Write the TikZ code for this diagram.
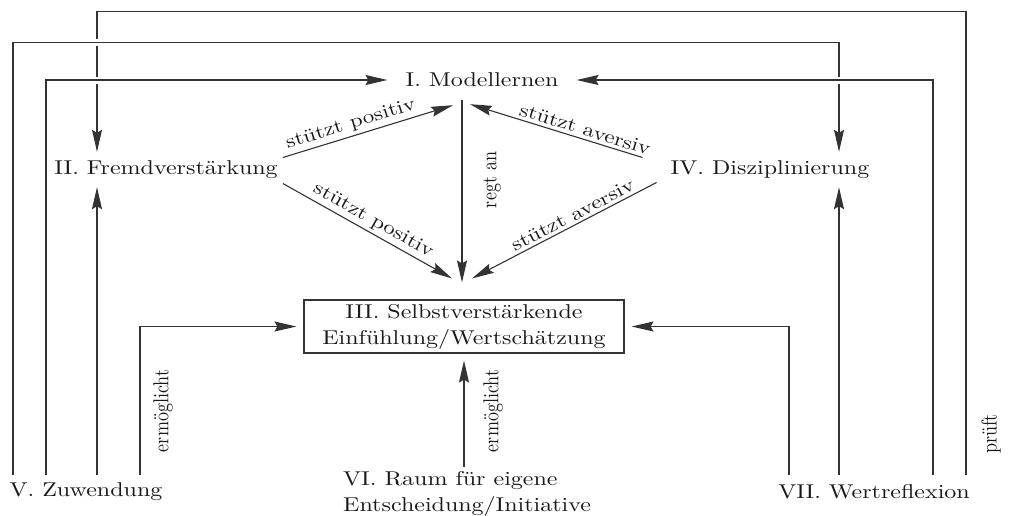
\documentclass[tikz,border=0pt]{standalone}
\usepackage{graphicx}
\usetikzlibrary{arrows.meta}
\newcommand\hstr[1]{\scalebox{2.4}[2.0]{#1}}
\newcommand\lstr[1]{\scalebox{2.3}[1.9]{#1}}
\newcommand\vstr[1]{\scalebox{1.8}[2.16]{#1}}
\begin{document}
\begin{tikzpicture}[x=1pt,y=-1pt,
  line/.style={draw=black!80,line width=1.1pt},
  arr/.style={line,-{Stealth[length=22pt,width=10pt,inset=3pt]}},
  halo/.style={preaction={draw=white,line width=7pt,-}},
  main/.style={font=\fontsize{10}{13}\selectfont,inner ysep=0pt,inner xsep=5pt,text=black!90},
  lab/.style={font=\fontsize{10}{12}\selectfont,inner sep=3pt,text=black!90},
  rot/.style={font=\fontsize{10}{12}\selectfont,inner sep=0pt,rotate=90,text=black!90},
  boxed/.style={main,draw=black!80,line width=1.1pt,minimum width=320pt,minimum height=53pt,align=center}]
\useasboundingbox (0,0) rectangle (1009,515);

\node[main,minimum height=40pt,inner xsep=18pt] (I) at (482,80) {\hstr{I. Modellernen}};
\node[main,minimum height=35pt] (II) at (166,169.5) {\hstr{II. Fremdverstärkung}};
\node[main,minimum height=35pt] (IV) at (770,169.5) {\hstr{IV. Disziplinierung}};
\node[boxed] (III) at (464,326.5) {\hstr{\begin{tabular}{@{}c@{}}III. Selbstverstärkende\\[0pt]Einfühlung/Wertschätzung\end{tabular}}};
\node[main,minimum height=34pt] (V) at (86,492) {\hstr{V. Zuwendung}};
\node[main,minimum height=34pt] (VII) at (874,492) {\hstr{VII. Wertreflexion}};
\node[main,inner sep=0pt,anchor=north west] (VI) at (343,467) {\hstr{\begin{tabular}{@{}l@{}}VI. Raum für eigene\\[0pt]Entscheidung/Initiative\end{tabular}}};

\coordinate (apex) at ([xshift=-20pt]I.south);
\coordinate (bot) at ([xshift=-2pt,yshift=17pt]III.north);

% triangle
\draw[arr] ([yshift=12pt]II.east) -- ([xshift=-9pt,yshift=-5pt]apex)
  node[lab,pos=0.42,above,sloped] {\lstr{stützt positiv}};
\draw[arr] ([yshift=-14pt]II.east) -- ([xshift=-10pt,yshift=4pt]bot)
  node[lab,pos=0.5,above,sloped] {\lstr{stützt positiv}};
\draw[arr] ([xshift=-23pt,yshift=12pt]IV.west) -- ([xshift=8pt,yshift=-4pt]apex)
  node[lab,pos=0.35,above,sloped] {\lstr{stützt aversiv}};
\draw[arr] ([xshift=-9pt,yshift=-13pt]IV.west) -- ([xshift=10pt,yshift=4pt]bot)
  node[lab,pos=0.43,above,sloped] {\lstr{stützt aversiv}};
\draw[arr] (apex) -- (bot);
\node[rot] (regt) at (492,180) {\vstr{regt an}};

% long connectors (verticals are broken where a later horizontal crosses them)
\draw[arr] ([xshift=92pt]VII.north) -- ++(0,-463) -| ([xshift=-69pt]II.north);
\draw[arr,halo] ([xshift=-73pt]V.north) -- ++(0,-432) -| ([xshift=69pt]IV.north);
\draw[arr,halo] ([xshift=-40pt]V.north) |- (I.west);
\draw[arr,halo] ([xshift=59pt]VII.north) |- (I.east);
\draw[arr] ([xshift=11pt]V.north) -- ([xshift=-69pt]II.south);
\draw[arr] ([xshift=-35pt]VII.north) -- ([xshift=69pt]IV.south);
\draw[arr,shorten >=7pt] ([xshift=54pt]V.north) |- (III.west);
\draw[arr,shorten >=7pt] ([xshift=-85pt]VII.north) |- (III.east);
\draw[arr,shorten >=7pt] (VI.north -| III.south) -- (III.south);

\node[rot] (erm1) at (163,411) {\vstr{ermöglicht}};
\node[rot] (erm2) at (493,411) {\vstr{ermöglicht}};
\node[rot] (pr) at (991,434) {\vstr{prüft}};
\end{tikzpicture}
\end{document}
